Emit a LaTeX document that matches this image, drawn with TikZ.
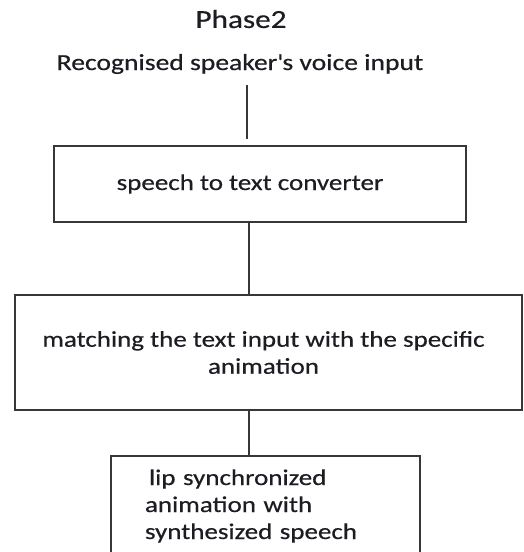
\documentclass[tikz,border=0pt]{standalone}
\usepackage{fontspec}
\setmainfont{Carlito}[FakeStretch=1.2,FakeBold=0.5]
\usetikzlibrary{positioning,calc}
\definecolor{linecolor}{RGB}{55,55,55}
\definecolor{inkcolor}{RGB}{30,28,34}

\begin{document}
\begin{tikzpicture}[x=1pt,y=-1pt,
    stage/.style={draw=linecolor, line width=2pt, text=inkcolor, font=\fontsize{22.5}{27}\selectfont},
    link/.style={draw=linecolor, line width=2pt}]
    \useasboundingbox (0,0) rectangle (523,552);

    % Titles
    \node[text=inkcolor, font=\fontsize{26}{30}\selectfont] (title) at (241,19) {Phase2};
    \node[text=inkcolor, font=\fontsize{23}{27}\selectfont] (input) at (240,64) {Recognised speaker\textquotesingle s voice input};

    % Stages
    \node[stage, minimum width=412, minimum height=76] (conv) at (260,184) {speech to text converter\hspace*{20pt}};
    \node[stage, minimum width=507, minimum height=115, align=center] (match) at (268.5,352.5)
        {matching the text input with the specific\hspace*{10pt}\\animation\hspace*{10pt}};
    \node[stage, minimum width=309, minimum height=100, inner xsep=34pt, text width=241pt, align=left] (lip) at (265.5,506)
        {\hspace*{4pt}lip synchronized\\animation with\\synthesized speech};

    % Links
    \coordinate (cue) at (247,85);
    \coordinate (axis) at (249,0);
    \draw[link, shorten >=6pt] (cue) -- (cue |- conv.north);
    \draw[link] (conv.south -| axis) -- (match.north -| axis);
    \draw[link] (match.south -| axis) -- (lip.north -| axis);
\end{tikzpicture}
\end{document}
